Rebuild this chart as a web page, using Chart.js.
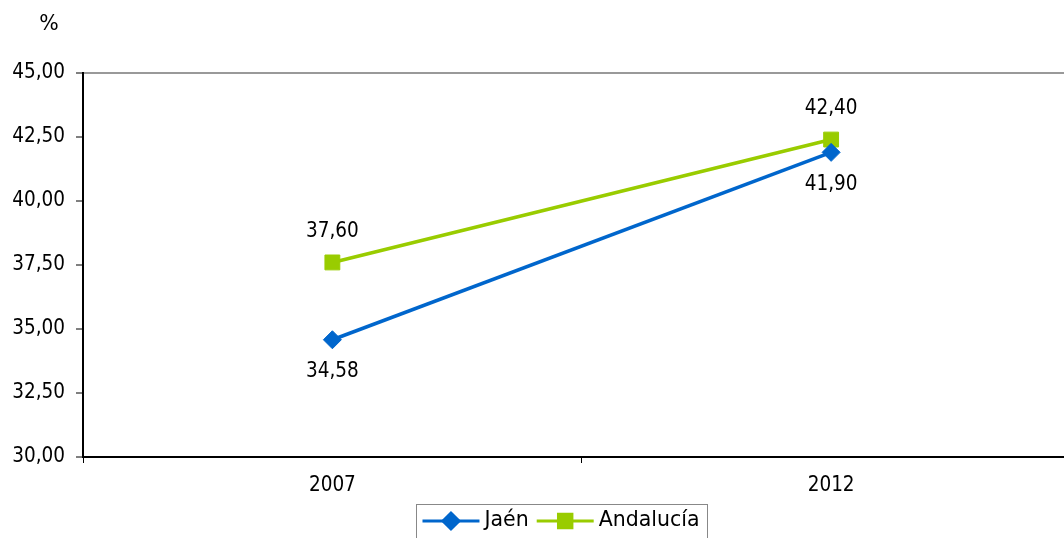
<!DOCTYPE html>
<html>
<head>
<meta charset="utf-8">
<script src="https://cdn.jsdelivr.net/npm/chart.js@4/dist/chart.umd.min.js"></script>
<style>
  body { margin: 0; background: #fff; overflow: hidden; }
  #caja { width: 1064px; height: 538px; overflow: hidden; }
</style>
</head>
<body>
<div id="caja"><canvas id="myChart" width="1092" height="538"></canvas></div>
<script>
// datos
const anios = ['2007', '2012'];
const jaen = [34.58, 41.90];
const andalucia = [37.60, 42.40];
const ticksY = [30, 32.5, 35, 37.5, 40, 42.5, 45];

const fuente = "'DejaVu Sans Condensed', 'DejaVu Sans', sans-serif";
const fuenteLeyenda = "'DejaVu Sans', sans-serif";

function coma(v) {
    return v.toFixed(2).replace('.', ',');
}

// etiquetas de datos, leyenda y el "%"
const extras = {
    id: 'extras',
    afterDatasetsDraw(chart) {
        const ctx = chart.ctx;
        ctx.save();
        ctx.font = '20.5px ' + fuente;
        ctx.fillStyle = '#000';
        ctx.textAlign = 'center';
        ctx.textBaseline = 'middle';
        chart.data.datasets.forEach((ds, i) => {
            const meta = chart.getDatasetMeta(i);
            meta.data.forEach((p, j) => {
                const dy = ds.labelArriba ? -31 : 32;
                ctx.fillText(coma(ds.data[j]), p.x, p.y + dy);
            });
        });

        // "%"
        ctx.font = '20.5px ' + fuenteLeyenda;
        ctx.fillText('%', 49, 25);

        // leyenda
        ctx.font = '20.5px ' + fuenteLeyenda;
        const linea = 57;
        let ancho = 6;
        chart.data.datasets.forEach(ds => {
            ancho += linea + 5 + ctx.measureText(ds.label).width + 8;
        });
        let x = 562 - ancho / 2;
        const top = 504;
        ctx.strokeStyle = '#888';
        ctx.lineWidth = 1;
        ctx.strokeRect(Math.round(x) + 0.5, top + 0.5, Math.round(ancho), 50);
        x += 6;
        const cy = 521;
        ctx.textAlign = 'left';
        chart.data.datasets.forEach(ds => {
            ctx.strokeStyle = ds.borderColor;
            ctx.lineWidth = 3;
            ctx.beginPath();
            ctx.moveTo(x, cy);
            ctx.lineTo(x + linea, cy);
            ctx.stroke();
            ctx.fillStyle = ds.borderColor;
            Chart.helpers.drawPoint(ctx, { pointStyle: ds.pointStyle, radius: ds.pointRadius - 1, borderWidth: 1 }, x + linea / 2, cy);
            ctx.fill();
            ctx.fillStyle = '#000';
            ctx.fillText(ds.label, x + linea + 5, cy);
            x += linea + 5 + ctx.measureText(ds.label).width + 8;
        });
        ctx.restore();
    }
};

const ctx = document.getElementById('myChart');
const myChart = new Chart(ctx, {
    type: 'line',
    data: {
        labels: anios,
        datasets: [{
            label: 'Jaén',
            data: jaen,
            borderColor: '#0066CC',
            backgroundColor: '#0066CC',
            borderWidth: 3.5,
            pointStyle: 'rectRot',
            pointRadius: 9,
            pointBorderWidth: 1,
            labelArriba: false
        }, {
            label: 'Andalucía',
            data: andalucia,
            borderColor: '#99CC00',
            backgroundColor: '#99CC00',
            borderWidth: 3.5,
            pointStyle: 'rect',
            pointRadius: 10.5,
            pointBorderWidth: 1,
            labelArriba: true
        }]
    },
    options: {
        responsive: false,
        animation: false,
        layout: { padding: { top: 73, right: 2, left: 0, bottom: 0 } },
        plugins: {
            legend: { display: false },
            tooltip: { enabled: false }
        },
        scales: {
            x: {
                offset: true,
                grid: {
                    offset: true,
                    drawOnChartArea: false,
                    tickLength: 6,
                    tickColor: '#000'
                },
                border: { color: '#000', width: 2 },
                ticks: { color: '#000', font: { family: fuente, size: 20.5 }, padding: 10 },
                afterFit(s) { s.height = 81; }
            },
            y: {
                min: 30,
                max: 45,
                afterBuildTicks(s) { s.ticks = ticksY.map(v => ({ value: v })); },
                grid: {
                    color: c => c.tick && c.tick.value === 45 ? '#999' : 'rgba(0,0,0,0)',
                    lineWidth: 2,
                    tickColor: '#000',
                    tickWidth: 1,
                    tickLength: 7
                },
                border: { color: '#000', width: 2 },
                ticks: {
                    color: '#000',
                    font: { family: fuente, size: 20.5 },
                    padding: 11,
                    callback: v => coma(v)
                },
                afterFit(s) { s.width = 83; }
            }
        }
    },
    plugins: [extras]
});
</script>
</body>
</html>
